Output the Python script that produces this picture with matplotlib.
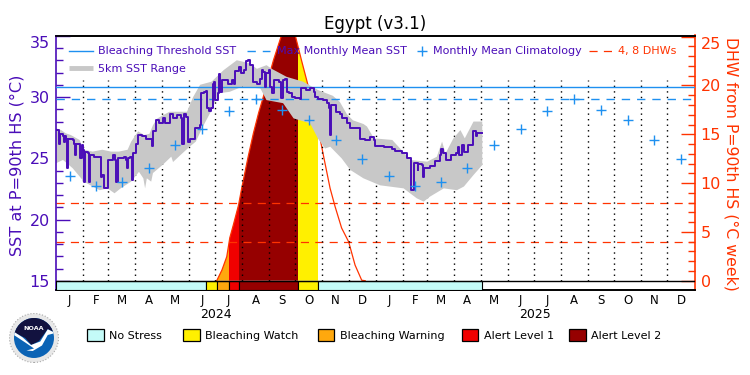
"""
Coral Reef Watch style 5km regional gauge: Egypt (v3.1), Jan 2024 - Dec 2025.
x axis is days since 1 Jan 2024, values read off the reference picture.
"""
import numpy as np
import matplotlib
matplotlib.use("Agg")
import matplotlib.pyplot as plt
from matplotlib.lines import Line2D
from matplotlib.patches import Circle, Polygon, Rectangle

plt.rcParams["font.family"] = "DejaVu Sans"

PURPLE = "#4a0db8"
RED = "#ff3300"
BLUE = "#1e90f0"
GRAY = "#c8c8c8"
STRESS_COLORS = {"none": "#c4fbf8", "watch": "#fff000", "warning": "#ffa80d",
                 "alert1": "#f00000", "alert2": "#960000"}

MONTH_DAYS = [31, 29, 31, 30, 31, 30, 31, 31, 30, 31, 30, 31,
              31, 28, 31, 30, 31, 30, 31, 31, 30, 31, 30, 31]
MONTH_LETTERS = list("JFMAMJJASOND") * 2
CLIM = [23.58, 22.77, 23.09, 24.23, 26.06, 27.37, 28.88, 29.81, 28.97, 28.1, 26.52, 24.97] * 2
THRESHOLD = 30.79
MMM = 29.81

sst_days = [0, 3, 3.5, 5, 8, 9, 10, 12, 13, 14, 19, 21, 22, 23, 27, 28, 30, 31, 32, 33, 37, 38, 39,
            43, 50, 51, 53, 55, 58, 59, 65, 68, 69, 71, 78, 80, 81, 82, 85, 87, 88, 92, 94, 99, 103,
            109, 110, 111, 115, 118, 122, 125, 130, 134, 139, 143, 144, 147, 149, 151, 153, 159, 165,
            166, 169, 172, 173, 175, 178, 180, 181, 182, 185, 187, 188, 190, 195, 197, 201, 204, 205,
            209, 212, 215, 218, 220, 222, 225, 230, 233, 236, 237, 239, 240, 244, 245, 247, 250, 255,
            258, 260, 262, 264, 267, 270, 274, 279, 281, 286, 291, 295, 297, 300, 306, 310, 313, 314,
            315, 320, 325, 328, 333, 337, 346, 348, 354, 360, 364, 365, 375, 385, 388, 396, 402, 406,
            407, 409, 410, 412, 414, 415, 419, 420, 421, 428, 434, 440, 441, 443, 446, 451, 452, 458,
            460, 461, 465, 467, 472, 477, 481, 482, 487.5]
sst_vals = [27.3, 27.25, 26.2, 27.0, 26.8, 26.35, 26.8, 26.6, 24.2, 26.6, 26.5, 26.2, 25.3, 26.2, 26.2,
            25.0, 26.1, 25.7, 23.1, 25.5, 25.4, 23.1, 25.3, 25.1, 25.1, 23.5, 23.6, 22.55, 22.55, 24.9,
            25.3, 24.9, 23.1, 25.0, 25.1, 24.9, 24.2, 25.0, 25.1, 23.2, 25.4, 26.2, 26.9, 26.8, 26.6,
            26.55, 26.0, 27.2, 28.1, 27.85, 28.25, 27.85, 28.6, 28.25, 28.5, 28.25, 26.2, 28.65, 28.4,
            26.35, 26.6, 27.44, 27.7, 30.3, 30.43, 30.5, 29.07, 28.9, 29.07, 31.1, 31.25, 29.75, 30.3,
            31.87, 30.4, 31.4, 31.4, 31.1, 31.4, 31.1, 32.15, 32.47, 31.98, 32.2, 32.9, 33.0, 32.6, 31.25,
            31.1, 31.5, 32.2, 32.06, 30.84, 32.0, 32.2, 30.84, 30.3, 31.4, 31.25, 29.9, 31.4, 31.5, 30.4,
            30.3, 30.0, 29.9, 29.8, 30.7, 30.6, 30.7, 30.4, 30.0, 29.8, 29.75, 29.5, 29.1, 26.9, 29.35,
            28.8, 28.65, 28.25, 27.85, 27.5, 27.45, 26.6, 26.5, 26.77, 26.5, 26.0, 25.95, 25.8, 25.6, 25.4,
            25.0, 24.7, 22.4, 22.4, 24.6, 24.65, 24.05, 24.5, 24.45, 23.45, 24.2, 24.4, 24.75, 25.3, 25.8,
            25.4, 24.9, 24.87, 25.3, 25.4, 25.95, 25.3, 26.1, 25.55, 26.1, 27.25, 26.8, 27.1, 27.05]

range_hi_days = [0, 6, 11, 17, 27, 32, 42, 53, 63, 72, 82, 86, 94, 101, 107, 111, 116, 122, 130, 141, 150,
                 157, 165, 178, 192, 207, 222, 230, 241, 247, 264, 283, 300, 317, 325, 333, 340, 352, 356,
                 364, 385, 406, 425, 436, 442, 446, 455, 463, 468, 478, 488]
range_hi_vals = [27.45, 27.3, 27.05, 26.9, 26.5, 25.7, 25.55, 25.7, 25.55, 25.55, 25.7, 26.35, 27.2, 26.9,
                 27.0, 27.7, 28.25, 28.5, 28.8, 28.8, 28.8, 30.0, 31.0, 31.25, 32.2, 33.0, 32.75, 32.3,
                 32.6, 32.3, 31.65, 31.25, 30.57, 30.1, 29.6, 28.6, 28.1, 27.8, 27.6, 26.63, 26.5, 24.86,
                 24.73, 25.13, 26.36, 25.4, 26.63, 27.3, 26.63, 28.0, 28.0]
range_lo_days = [0, 8, 19, 32, 42, 50, 59, 67, 74, 86, 95, 100, 102, 104, 109, 111, 122, 132, 134, 143, 153,
                 160, 169, 178, 186, 199, 213, 234, 241, 260, 272, 291, 300, 308, 314, 327, 337, 352, 371,
                 398, 413, 421, 428, 444, 459, 467, 478, 488]
range_lo_vals = [24.6, 24.87, 24.2, 23.1, 22.7, 22.4, 22.55, 22.15, 22.55, 23.1, 23.9, 23.37, 22.55, 23.37,
                 23.1, 23.8, 24.46, 25.14, 24.7, 25.3, 25.95, 26.36, 27.7, 28.9, 30.3, 30.43, 30.84, 30.7,
                 29.75, 29.5, 28.26, 27.85, 26.6, 25.8, 25.95, 25.0, 24.05, 23.37, 22.8, 22.55, 21.74,
                 21.47, 21.87, 22.55, 22.4, 22.7, 23.64, 24.45]

dhw_days = [184, 190, 195.5, 199, 203, 209, 212.6, 220, 226, 232, 237.4, 249, 258.4, 266, 273.7, 281, 288,
            302.3, 306, 313.8, 319.5, 327, 335, 342.4, 350, 354]
dhw_vals = [0, 1.1, 2.46, 4.4, 5.7, 7.75, 9.47, 12.7, 15.1, 17.2, 18.85, 22.6, 25.2, 26.0, 25.2, 22.6, 20.2,
            14.6, 12.9, 9.47, 7.6, 5.4, 4.0, 1.6, 0.05, 0]

stage_edges = [0, 171.4, 184, 198.5, 209.8, 277, 300, 487.6]
stage_names = ["none", "watch", "warning", "alert1", "alert2", "watch", "none"]

FIG_W, FIG_H = 750, 375
def fx(px): return px / FIG_W
def fy(py): return 1 - py / FIG_H

fig = plt.figure(figsize=(7.5, 3.75), dpi=100)
ax_dhw = fig.add_axes([fx(56), fy(290), 638.5 / FIG_W, 254.5 / FIG_H])
ax = ax_dhw.twinx()
ax.yaxis.tick_left()
ax.yaxis.set_label_position("left")
ax_dhw.yaxis.tick_right()
ax_dhw.yaxis.set_label_position("right")
ax.patch.set_visible(False)

n_days = sum(MONTH_DAYS)
month_starts = np.cumsum([0] + MONTH_DAYS)
month_mids = (month_starts[:-1] + month_starts[1:]) / 2

ax_dhw.set_xlim(0, n_days)
ax.set_ylim(14.26, 35.02)
ax_dhw.set_ylim(-0.95, 25.12)

# DHW area, coloured by stress stage: spans clipped to the curve
area = Polygon(np.column_stack([dhw_days, dhw_vals]), closed=True, fc="none", ec="none",
               transform=ax_dhw.transData)
ax_dhw.add_patch(area)
for i, name in enumerate(stage_names):
    if name == "none":
        continue
    span = ax_dhw.axvspan(stage_edges[i], stage_edges[i + 1], color=STRESS_COLORS[name], lw=0, zorder=1)
    span.set_clip_path(area)
ax_dhw.plot(dhw_days, dhw_vals, color=RED, lw=0.9, zorder=2)

for d in [4, 8]:
    ax_dhw.axhline(d, color=RED, lw=0.9, ls=(0, (6.5, 5)), zorder=3)
ax_dhw.vlines(month_starts[1:-1], 0, 20.6, color="black", lw=1.0, ls=(0, (1, 3)), zorder=3)

# SST layers
band_x = np.concatenate([range_hi_days, range_lo_days[::-1]])
band_y = np.concatenate([range_hi_vals, range_lo_vals[::-1]])
ax.fill(band_x, band_y, color=GRAY, lw=0, zorder=2)
ax.axhline(THRESHOLD, color=BLUE, lw=1.0, zorder=4)
ax.axhline(MMM, color=BLUE, lw=1.0, ls=(0, (6, 5)), zorder=4)
ax.plot(sst_days, sst_vals, color=PURPLE, lw=1.4, drawstyle="steps-post", zorder=5)
ax.plot(month_mids, CLIM, ls="none", marker="+", ms=7, mew=1.0, color=BLUE, zorder=6)

# stress bar along the bottom
for i, name in enumerate(stage_names):
    ax.broken_barh([(stage_edges[i], stage_edges[i + 1] - stage_edges[i])], (14.26, 15.0 - 14.26),
                   facecolor=STRESS_COLORS[name], edgecolor="black", lw=0.8, zorder=7)
ax.axhline(15.0, color="black", lw=1.0, zorder=8)

# axes dressing
ax.spines["right"].set_visible(False)
ax_dhw.spines["left"].set_visible(False)
ax.spines["left"].set_color(PURPLE)
ax_dhw.spines["right"].set_color(RED)
for a in [ax, ax_dhw]:
    for side in ["top", "bottom", "left", "right"]:
        a.spines[side].set_linewidth(1.2)

ax.set_yticks([15, 20, 25, 30, 35])
ax.set_yticks(np.arange(15, 36), minor=True)
ax.tick_params(axis="y", which="major", direction="in", length=10, width=1, color=PURPLE,
               labelcolor=PURPLE, labelsize=11.5, pad=4.5)
ax.tick_params(axis="y", which="minor", direction="in", length=5, width=1, color=PURPLE)
ax_dhw.set_yticks([0, 5, 10, 15, 20, 25])
ax_dhw.set_yticks(np.arange(0, 26), minor=True)
ax_dhw.tick_params(axis="y", which="major", direction="in", length=10, width=1, color=RED,
                   labelcolor=RED, labelsize=11.5, pad=4.5)
ax_dhw.tick_params(axis="y", which="minor", direction="in", length=5, width=1, color=RED)
ax.get_yticklabels()[-1].set_va("top")
ax_dhw.get_yticklabels()[-1].set_va("top")

# twinx hides the second x axis, so the month letters live on ax_dhw
ax_dhw.set_xticks(month_mids)
ax_dhw.set_xticklabels(MONTH_LETTERS, fontsize=8.5)
ax_dhw.tick_params(axis="x", length=0, pad=3)

fig.text(fx(17), fy(165), "SST at P=90th HS (°C)", rotation=90, color=PURPLE, fontsize=11.6,
         ha="center", va="center")
fig.text(fx(731), fy(164), "DHW from P=90th HS (°C week)", rotation=270, color=RED, fontsize=11.3,
         ha="center", va="center")
fig.text(fx(375), fy(24), "Egypt (v3.1)", fontsize=12, ha="center", va="center")
fig.text(fx(216), fy(315), "2024", fontsize=9, ha="center", va="center")
fig.text(fx(535), fy(315), "2025", fontsize=9, ha="center", va="center")

# top legend, placed by hand
def leg_line(x0, x1, y, **kw):
    fig.add_artist(Line2D([fx(x0), fx(x1)], [fy(y), fy(y)], transform=fig.transFigure, **kw))

def leg_text(x, y, s, color):
    fig.text(fx(x), fy(y), s, color=color, fontsize=8, ha="left", va="center", zorder=10)

leg_line(69, 93, 51, color=BLUE, lw=1.0)
leg_text(98, 51, "Bleaching Threshold SST", PURPLE)
leg_line(247, 270, 51, color=BLUE, lw=1.0, ls=(0, (6, 5)))
leg_text(277, 51, "Max Monthly Mean SST", PURPLE)
fig.add_artist(Line2D([fx(422)], [fy(51)], transform=fig.transFigure, ls="none", marker="+", ms=7,
                      mew=1.0, color=BLUE))
leg_text(433, 51, "Monthly Mean Climatology", PURPLE)
leg_line(589, 612, 51, color=RED, lw=0.9, ls=(0, (6.5, 5)))
leg_text(618, 51, "4, 8 DHWs", RED)
leg_line(69, 93, 68, color=GRAY, lw=3.5, solid_capstyle="butt")
leg_text(98, 69, "5km SST Range", PURPLE)

# bottom stress legend
legend_keys = ["none", "watch", "warning", "alert1", "alert2"]
legend_labels = ["No Stress", "Bleaching Watch", "Bleaching Warning", "Alert Level 1", "Alert Level 2"]
legend_box_x = [87.3, 183.3, 317.7, 461.7, 569.3]
for key, label, bx in zip(legend_keys, legend_labels, legend_box_x):
    fig.add_artist(Rectangle((fx(bx), fy(341)), 16.4 / FIG_W, 12 / FIG_H, transform=fig.transFigure,
                             facecolor=STRESS_COLORS[key], edgecolor="black", lw=0.9))
    fig.text(fx(bx + 22), fy(336), label, fontsize=8, ha="left", va="center")

# NOAA logo
logo = fig.add_axes([fx(9), fy(363), 50 / FIG_W, 50 / FIG_H])
logo.set_xlim(-1, 1)
logo.set_ylim(-1, 1)
logo.axis("off")
logo.add_patch(Circle((0, 0), 0.98, fc="#e8e8e8", ec="#aaaaaa", lw=0.8, ls=":"))
disc = Circle((0, 0), 0.8, fc="#0b63b5", ec="none")
logo.add_patch(disc)
navy = Polygon([(-0.9, 0.9), (0.9, 0.9), (0.9, 0.2), (0.55, 0.35), (0.2, -0.12), (-0.1, -0.28),
                (-0.35, 0.0), (-0.9, 0.28)], fc="#12123f", ec="none")
logo.add_patch(navy)
navy.set_clip_path(disc)
swoosh = Polygon([(-0.85, 0.28), (-0.45, 0.02), (-0.12, -0.28), (0.25, -0.14), (0.55, 0.35), (0.85, 0.2),
                  (0.55, 0.12), (0.32, -0.3), (-0.05, -0.52), (-0.3, -0.5), (0.0, -0.42), (-0.35, -0.18),
                  (-0.85, 0.15)], fc="white", ec="none")
logo.add_patch(swoosh)
swoosh.set_clip_path(disc)
logo.text(0, 0.4, "NOAA", color="white", fontsize=4.6, fontweight="bold", ha="center", va="center")

fig.savefig("out.png", dpi=100)
